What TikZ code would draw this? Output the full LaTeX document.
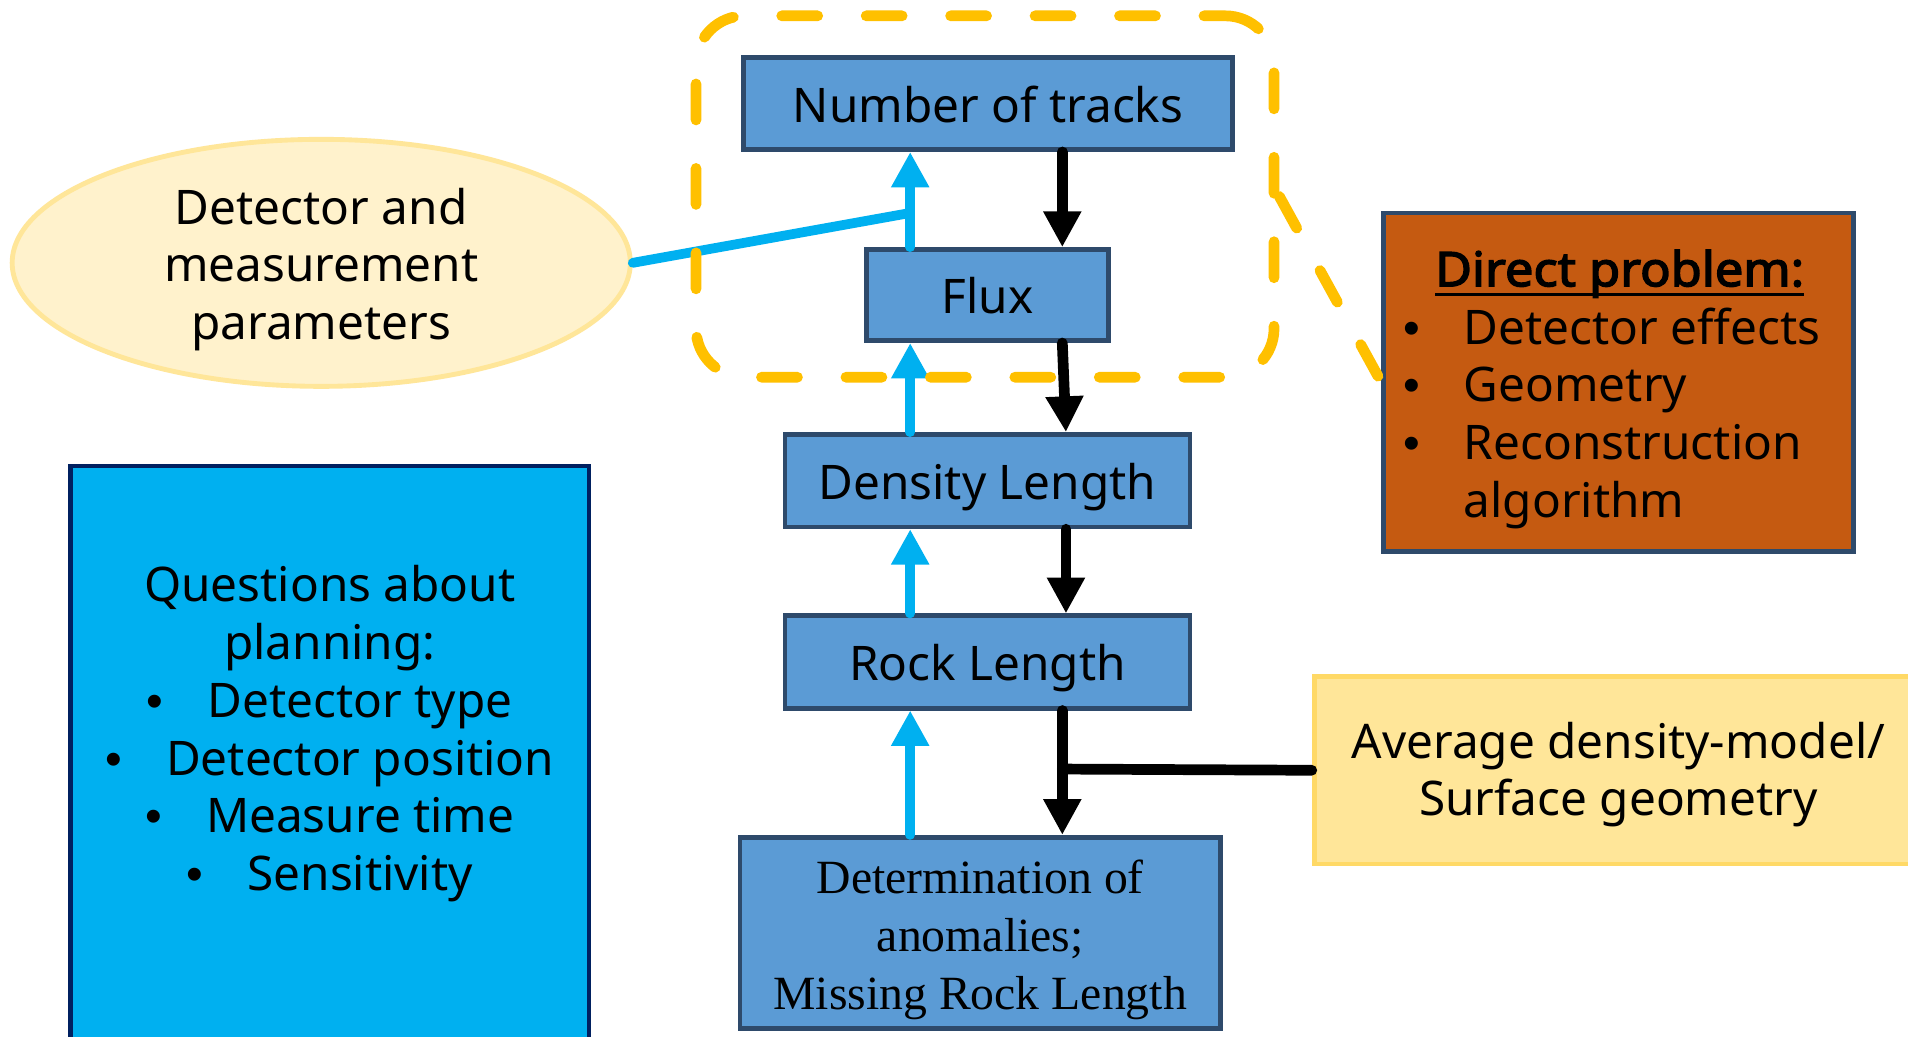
\documentclass[tikz,border=0pt]{standalone}
\usepackage{fontspec}
\setmainfont{Noto Sans}
\newfontfamily\headface{Noto Sans}[FakeBold=3,FakeStretch=1.06]
\newfontfamily\serifface{Liberation Serif}
\newfontfamily\bulletface{Liberation Sans}
\usetikzlibrary{arrows.meta,shapes.geometric}

\definecolor{boxblue}{HTML}{5B9BD5}
\definecolor{boxedge}{HTML}{2E4A6B}
\definecolor{skyblue}{HTML}{00B0F0}
\definecolor{gold}{HTML}{FFC000}
\definecolor{cream}{HTML}{FFF2CC}
\definecolor{creamedge}{HTML}{FFE699}
\definecolor{rust}{HTML}{C55A11}
\definecolor{sand}{HTML}{FFE699}
\definecolor{sandedge}{HTML}{FFD966}
\definecolor{navy}{HTML}{002060}

% heading underline that sits just below the baseline
\newcommand\headline[1]{\setbox0=\hbox{#1}\rlap{\rule[-3.9pt]{\wd0}{1.3pt}}\box0}
\newcommand\bul{\makebox[25pt][l]{{\bulletface\textbullet}}}

\begin{document}
\begin{tikzpicture}[x=0.5pt,y=-0.5pt,
  every node/.style={font=\fontsize{19.6pt}{23.75pt}\selectfont, inner sep=0pt},
  stage/.style={draw=boxedge, fill=boxblue, line width=1.9pt, rectangle,
    text height=15.5pt, text depth=0pt},
  upflow/.style={draw=skyblue, line width=4pt, line cap=round,
    -{Triangle[width=14.7pt,length=14.5pt]}},
  downflow/.style={draw=black, line width=4.4pt, line cap=round,
    -{Triangle[width=14.7pt,length=14.7pt]}},
  goldline/.style={draw=gold, line width=4.4pt, line cap=round,
    dash pattern=on 14.8pt off 19.9pt},
]
\fill[white] (0,0) rectangle (1568,852);
\useasboundingbox (0,0) rectangle (1568,852);

% chain of quantities
\node[stage, minimum width=201pt, minimum height=38pt] (nt) at (812,85) {Number of tracks};
\node[stage, minimum width=99.5pt, minimum height=37.5pt] (flux) at (811.5,242.5) {Flux};
\node[stage, minimum width=166.5pt, minimum height=38pt] (dens) at (811.5,395) {Density Length};
\node[stage, minimum width=166.5pt, minimum height=38pt] (rock) at (811.5,544) {Rock Length};
\node[draw=boxedge, fill=boxblue, line width=1.9pt, minimum width=197.5pt,
  minimum height=78.5pt] (det) at (805.5,766.5) {};
\node[align=center, yshift=-3pt,
  font=\serifface\fontsize{19.6pt}{23.75pt}\selectfont] (dettext) at (det.center)
  {Determination of\\anomalies;\\Missing Rock Length};

% side boxes
\node[ellipse, draw=creamedge, fill=cream, line width=2pt, minimum width=254pt,
  minimum height=101.5pt] (params) at (264,216) {};
\node[align=center, yshift=-2.75pt] (paramstext) at (params.center)
  {Detector and\\measurement\\parameters};

\node[rectangle, draw=boxedge, fill=rust, line width=1.9pt, minimum width=193pt,
  minimum height=139pt] (direct) at (1330,314) {};
\node[align=center, yshift=-3pt] (directtext) at (1324,314)
  {\hspace*{7pt}{\headface\headline{Direct problem:}}\\
   \makebox[171pt][l]{\bul Detector effects}\\
   \makebox[171pt][l]{\bul Geometry}\\
   \makebox[171pt][l]{\bul Reconstruction}\\
   \makebox[171pt][l]{\hspace{25pt}algorithm}};

\node[rectangle, draw=sandedge, fill=sand, line width=2pt, minimum width=250pt,
  minimum height=77pt] (avg) at (1330,633) {};
\node[align=center, yshift=-1.75pt] (avgtext) at (avg.center)
  {Average density-model/\\Surface geometry};

\node[rectangle, draw=navy, fill=skyblue, line width=1.9pt, minimum width=213pt,
  minimum height=248.5pt] (plan) at (271,631.5) {};
\node[align=center] (plantext) at (271,603)
  {Questions about\\planning:\\
   \bul Detector type\\
   \bul Detector position\\
   \bul Measure time\\
   \bul Sensitivity};

% columns of the two flows
\coordinate (bx) at (748,0);
\coordinate (kx) at (873,0);
\coordinate (ky) at (876,0);
\coordinate (feed) at (748,175);
\coordinate (split) at (873,632);

% inverse direction (upwards)
\draw[upflow] (flux.north -| bx) -- (nt.south -| bx);
\draw[upflow] (dens.north -| bx) -- (flux.south -| bx);
\draw[upflow] (rock.north -| bx) -- (dens.south -| bx);
\draw[upflow] (det.north -| bx) -- (rock.south -| bx);
\draw[draw=skyblue, line width=4pt, line cap=round] (params.east) -- (feed);

% direct direction (downwards)
\draw[downflow] (nt.south -| kx) -- (flux.north -| kx);
\draw[downflow] (flux.south -| kx) -- (dens.north -| ky);
\draw[downflow] (dens.south -| ky) -- (rock.north -| ky);
\draw[downflow] (rock.south -| kx) -- (det.north -| kx);
\draw[draw=black, line width=4.4pt, line cap=round] (split) -- (avg.west);

% dashed group around the measured quantities
\node[goldline, dash phase=6pt, rounded corners=20pt, minimum width=237.5pt,
  minimum height=148.5pt] (group) at (809.5,161.5) {};
\draw[goldline] (group.east) -- (direct.west);
\end{tikzpicture}
\end{document}
